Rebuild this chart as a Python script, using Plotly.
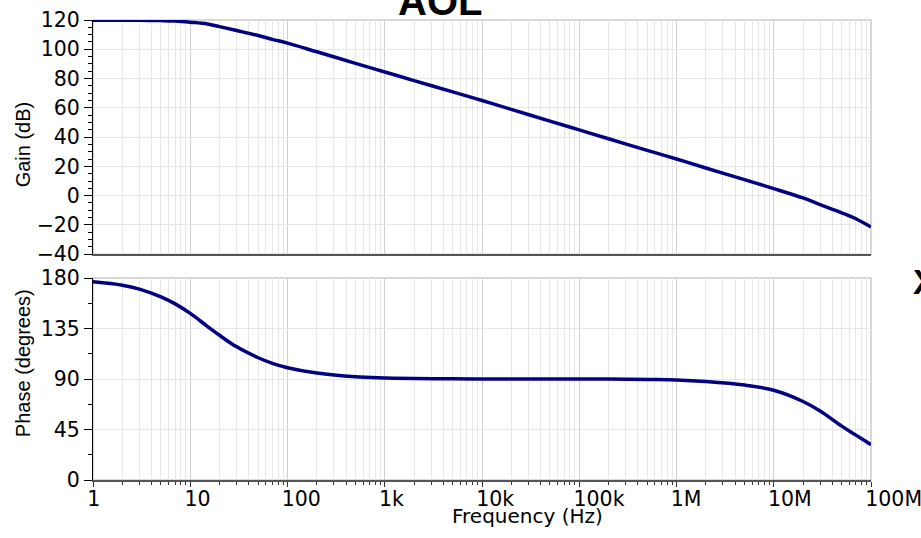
import plotly.graph_objects as go
from plotly.subplots import make_subplots

freq_hz = [1, 2, 3, 5, 7, 10, 15, 20, 30, 50, 70, 100, 200, 500, 1e3, 2e3, 5e3,
           1e4, 2e4, 5e4, 1e5, 2e5, 5e5, 1e6, 2e6, 5e6, 1e7, 2e7, 3e7, 5e7, 7e7, 1e8]
gain_db = [119.8, 119.8, 119.8, 119.6, 119.3, 118.5, 117.3, 115.5, 112.8, 109.4,
           106.8, 104.2, 98.3, 90.4, 84.5, 78.6, 70.9, 65.0, 58.9, 50.9, 44.9,
           38.9, 30.9, 25.0, 18.9, 10.9, 4.8, -1.6, -6.1, -11.7, -15.8, -21.5]
phase_deg = [176.7, 173.7, 170.2, 163.3, 157.0, 148.5, 137.0, 129.0, 118.7, 109.0,
             104.0, 100.1, 95.3, 92.0, 91.0, 90.4, 90.2, 90.0, 90.0, 90.0, 90.0,
             90.0, 89.6, 89.2, 87.8, 84.6, 80.0, 70.0, 61.5, 48.0, 40.0, 31.5]

decade_vals = [1, 10, 100, 1e3, 1e4, 1e5, 1e6, 1e7, 1e8]
decade_text = ["1", "10", "100", "1k", "10k", "100k", "1M", "10M", "100M"]
gain_ticks = [-40, -20, 0, 20, 40, 60, 80, 100, 120]
phase_ticks = [0, 45, 90, 135, 180]

LINE = "#000080"
TICKFONT = dict(family="DejaVu Sans", size=20.5, color="#000")

fig = make_subplots(rows=2, cols=1, shared_xaxes=True, vertical_spacing=0.052,
                    row_heights=[0.537, 0.463])

fig.add_trace(go.Scatter(x=freq_hz, y=gain_db, mode="lines", line=dict(color=LINE, width=3.5),
                         line_shape="spline", showlegend=False), row=1, col=1)
fig.add_trace(go.Scatter(x=freq_hz, y=phase_deg, mode="lines", line=dict(color=LINE, width=3.5),
                         line_shape="spline", showlegend=False), row=2, col=1)

xcommon = dict(type="log", range=[0, 8], showgrid=True, gridcolor="#d0d0d0", gridwidth=1,
               tickvals=decade_vals, ticktext=decade_text, automargin=False,
               minor=dict(dtick="D1", showgrid=True, gridcolor="#e6e6e6", gridwidth=1),
               zeroline=False)

fig.update_xaxes(**xcommon, row=1, col=1)
fig.update_xaxes(showticklabels=False, ticks="", showline=True, linecolor="#555", linewidth=1.5,
                 row=1, col=1)
fig.update_xaxes(**xcommon, row=2, col=1)
fig.update_xaxes(showticklabels=True, ticks="outside", ticklen=5, tickcolor="#333",
                 showline=True, linecolor="#555", linewidth=1.5, tickfont=TICKFONT,
                 ticklabelposition="outside right", ticklabelshift=-7,
                 ticklabeloverflow="allow",
                 row=2, col=1)
fig.update_xaxes(minor=dict(ticks="outside", ticklen=3, tickcolor="#333"), row=2, col=1)

fig.update_yaxes(range=[-40, 120], tickvals=gain_ticks, showgrid=True, gridcolor="#e6e6e6",
                 ticks="outside", ticklen=8, tickcolor="#000", showline=True, linecolor="#000",
                 linewidth=1, zeroline=False, tickfont=TICKFONT, automargin=False,
                 minor=dict(dtick=5, ticks="outside", ticklen=4, tickcolor="#000", showgrid=False),
                 row=1, col=1)
fig.update_yaxes(range=[0, 180], tickvals=phase_ticks, showgrid=True, gridcolor="#e6e6e6",
                 ticks="outside", ticklen=8, tickcolor="#000", showline=True, linecolor="#000",
                 linewidth=1, zeroline=False, tickfont=TICKFONT, automargin=False,
                 minor=dict(dtick=22.5, ticks="outside", ticklen=4, tickcolor="#000", showgrid=False),
                 row=2, col=1)

# light frame around each panel
for xr, yr in [("x domain", "y domain"), ("x2 domain", "y2 domain")]:
    fig.add_shape(type="rect", xref=xr, yref=yr, x0=0, x1=1, y0=0, y1=1,
                  line=dict(color="#cccccc", width=1.5), layer="below")

TITLEFONT = dict(family="Liberation Sans", size=20, color="#000")
fig.add_annotation(text="Gain (dB)", xref="paper", yref="paper", x=-0.09, y=0.7296,
                   xanchor="center", yanchor="middle",
                   textangle=-90, showarrow=False, font=TITLEFONT)
fig.add_annotation(text="Phase (degrees)", xref="paper", yref="paper", x=-0.09, y=0.254,
                   xanchor="center", yanchor="middle",
                   textangle=-90, showarrow=False, font=TITLEFONT)
fig.add_annotation(text="Frequency (Hz)", xref="paper", yref="paper", x=0.559, y=-0.0782,
                   xanchor="center", yanchor="middle",
                   showarrow=False, font=dict(family="DejaVu Sans", size=20, color="#000"))
fig.add_annotation(text="<b>AOL</b>", xref="paper", yref="paper", x=0.446, y=1.041,
                   xanchor="center", yanchor="middle", showarrow=False,
                   font=dict(family="Liberation Sans", size=40, color="#000"))
fig.add_annotation(text="<b>X</b>", xref="paper", yref="paper", x=1.0694, y=0.4320,
                   xanchor="center", yanchor="middle", showarrow=False,
                   font=dict(family="Liberation Sans", size=35, color="#000"))

fig.update_layout(width=921, height=538, margin=dict(l=93, r=50, t=19.5, b=58, autoexpand=False),
                  plot_bgcolor="white", paper_bgcolor="white", showlegend=False)

fig.write_html("out.html", config={"displayModeBar": False},
               post_script="document.body.style.margin='0';document.body.style.overflow='hidden';")
